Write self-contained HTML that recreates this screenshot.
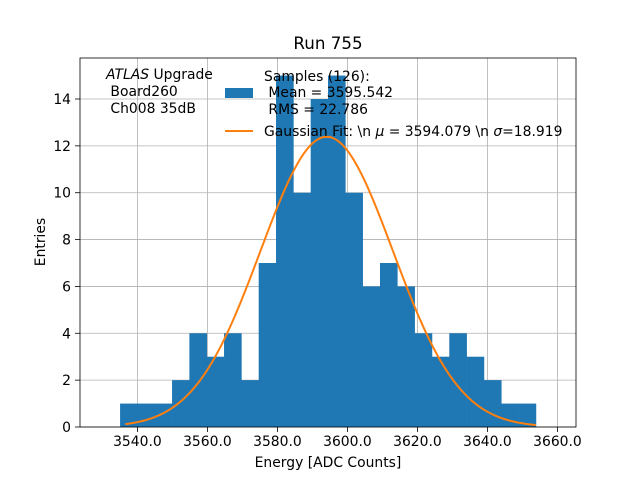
<!DOCTYPE html>
<html><head><meta charset="utf-8"><style>
body{margin:0;background:#fff;}
svg text{font-family:"DejaVu Sans","Liberation Sans",sans-serif;}
</style></head><body>
<svg id="chart" width="640" height="480" xmlns="http://www.w3.org/2000/svg">
<rect width="640" height="480" fill="#fff"/>
<g id="grid"></g><g id="bars"></g><g id="curve"></g><g id="axes"></g>
<text x="328" y="49" font-size="16.7" text-anchor="middle">Run 755</text>
<text x="328" y="467" font-size="13.9" text-anchor="middle">Energy [ADC Counts]</text>
<text transform="translate(45,242) rotate(-90)" font-size="13.9" text-anchor="middle">Entries</text>
<g font-size="13.9">
<text x="106" y="79"><tspan font-style="italic">ATLAS</tspan> Upgrade</text>
<text x="106" y="96" xml:space="preserve"> Board260</text>
<text x="106" y="113" xml:space="preserve"> Ch008 35dB</text>
</g>
<g font-size="13.9">
<rect x="225" y="88" width="28" height="10" fill="#1f77b4"/>
<text x="264" y="81">Samples (126):</text>
<text x="264" y="97" xml:space="preserve"> Mean = 3595.542</text>
<text x="264" y="114" xml:space="preserve"> RMS = 22.786</text>
<line x1="225" y1="131" x2="253" y2="131" stroke="#ff7f0e" stroke-width="2"/>
<text x="264" y="136">Gaussian Fit: \n <tspan font-style="italic">μ</tspan> = 3594.079 \n <tspan font-style="italic">σ</tspan>=18.919</text>
</g>
</svg>
<script>
const counts=[1,1,1,2,4,3,4,2,7,15,10,14,15,10,6,7,6,4,3,4,3,2,1,1];
const binStart=3535.05;
const binWidth=4.95;
const xTicks=[3540,3560,3580,3600,3620,3640,3660];
const yTicks=[0,2,4,6,8,10,12,14];
const fitMu=3594.079, fitSigma=18.919, fitAmp=12.39;
const X0=80,X1=576,Y0=427,Y1=58,xmin=3523.6,xmax=3665.3,ymin=0,ymax=15.75;
const sx=v=>X0+(v-xmin)/(xmax-xmin)*(X1-X0);
const sy=v=>Y0-(v-ymin)/(ymax-ymin)*(Y0-Y1);
const NS="http://www.w3.org/2000/svg";
function mk(t,a,p){const e=document.createElementNS(NS,t);for(const k in a)e.setAttribute(k,a[k]);p.appendChild(e);return e;}
const grid=document.getElementById('grid'),bars=document.getElementById('bars'),curve=document.getElementById('curve'),axes=document.getElementById('axes');
xTicks.forEach(t=>{const x=sx(t);
const g=mk('line',{x1:x,x2:x,y1:Y1,y2:Y0,stroke:'#b0b0b0','stroke-width':0.8},grid);


mk('line',{x1:x,x2:x,y1:Y0,y2:Y0+5,stroke:'#000','stroke-width':0.8},axes);
const tx=mk('text',{x:x,y:Y0+19,'font-size':13.9,'text-anchor':'middle'},axes);tx.textContent=t.toFixed(1);

});
yTicks.forEach(t=>{const y=sy(t);
const g=mk('line',{x1:X0,x2:X1,y1:y,y2:y,stroke:'#b0b0b0','stroke-width':0.8},grid);


mk('line',{x1:X0-5,x2:X0,y1:y,y2:y,stroke:'#000','stroke-width':0.8},axes);
const tx=mk('text',{x:X0-9,y:y+5,'font-size':13.9,'text-anchor':'end'},axes);tx.textContent=t;

});
counts.forEach((c,i)=>{const a=sx(binStart+i*binWidth),b=sx(binStart+(i+1)*binWidth);
const r=mk('rect',{x:a,y:sy(c),width:b-a+0.3,height:sy(0)-sy(c),fill:'#1f77b4'},bars);

});
let d='';const lo=binStart+1.5,hi=binStart+counts.length*binWidth;
for(let i=0;i<=200;i++){const v=lo+(hi-lo)*i/200;const y=fitAmp*Math.exp(-0.5*((v-fitMu)/fitSigma)**2);d+=(i?'L':'M')+sx(v).toFixed(2)+','+sy(y).toFixed(2);}
const p=mk('path',{d:d,fill:'none',stroke:'#ff7f0e','stroke-width':2},curve);


const f=mk('rect',{x:X0,y:Y1,width:X1-X0,height:Y0-Y1,fill:'none',stroke:'#000','stroke-width':0.8},axes);


</script>
</body></html>
